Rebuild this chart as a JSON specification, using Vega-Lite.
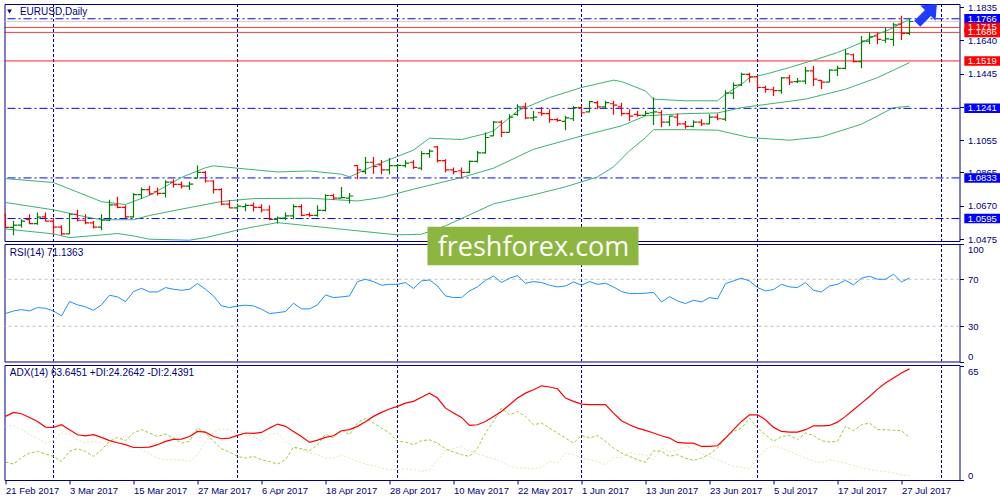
{
"$schema": "https://vega.github.io/schema/vega-lite/v6.json",
"background": "white",
"padding": {"left": 2.5, "top": 1, "right": 0, "bottom": 0},
"spacing": 3,
"bounds": "flush",
"config": {
  "view": {"stroke": "#000080", "strokeWidth": 1},
  "axis": {"labelFont": "Liberation Sans", "labelFontSize": 9.5, "labelColor": "#000080", "tickColor": "#000080", "tickSize": 4, "tickWidth": 1, "labelPadding": 4, "domain": false, "grid": false},
  "text": {"font": "Liberation Sans"}
},
"datasets": {
  "months": [{"i":6},{"i":29},{"i":49},{"i":72},{"i":94},{"i":117}],
  "levels": [
    {"p":1.1750,"type":"bid"},
    {"p":1.1766,"type":"pivot"},
    {"p":1.1686,"type":"target"},
    {"p":1.1715,"type":"target"},
    {"p":1.1519,"type":"target"},
    {"p":1.1241,"type":"pivot"},
    {"p":1.0833,"type":"pivot"},
    {"p":1.0595,"type":"pivot"}
  ],
  "ohlc": [
    {"i":0,"o":1.0615,"h":1.0624,"l":1.0538,"c":1.0543},
    {"i":1,"o":1.0543,"h":1.0581,"l":1.0497,"c":1.0556},
    {"i":2,"o":1.0556,"h":1.0591,"l":1.0542,"c":1.0580},
    {"i":3,"o":1.0590,"h":1.0620,"l":1.0562,"c":1.0565},
    {"i":4,"o":1.0565,"h":1.0630,"l":1.0558,"c":1.0603},
    {"i":5,"o":1.0605,"h":1.0630,"l":1.0577,"c":1.0580},
    {"i":6,"o":1.0580,"h":1.0600,"l":1.0507,"c":1.0545},
    {"i":7,"o":1.0545,"h":1.0556,"l":1.0497,"c":1.0505},
    {"i":8,"o":1.0505,"h":1.0626,"l":1.0503,"c":1.0620},
    {"i":9,"o":1.0620,"h":1.0646,"l":1.0577,"c":1.0585},
    {"i":10,"o":1.0585,"h":1.0620,"l":1.0562,"c":1.0570},
    {"i":11,"o":1.0570,"h":1.0581,"l":1.0536,"c":1.0545},
    {"i":12,"o":1.0545,"h":1.0620,"l":1.0527,"c":1.0585},
    {"i":13,"o":1.0585,"h":1.0705,"l":1.0581,"c":1.0675},
    {"i":14,"o":1.0675,"h":1.0722,"l":1.0655,"c":1.0660},
    {"i":15,"o":1.0660,"h":1.0673,"l":1.0597,"c":1.0605},
    {"i":16,"o":1.0605,"h":1.0744,"l":1.0600,"c":1.0735},
    {"i":17,"o":1.0735,"h":1.0777,"l":1.0709,"c":1.0765},
    {"i":18,"o":1.0765,"h":1.0787,"l":1.0732,"c":1.0740},
    {"i":19,"o":1.0752,"h":1.0777,"l":1.0730,"c":1.0742},
    {"i":20,"o":1.0742,"h":1.0820,"l":1.0718,"c":1.0808},
    {"i":21,"o":1.0808,"h":1.0826,"l":1.0777,"c":1.0795},
    {"i":22,"o":1.0795,"h":1.0812,"l":1.0771,"c":1.0785},
    {"i":23,"o":1.0785,"h":1.0812,"l":1.0762,"c":1.0797},
    {"i":24,"o":1.0832,"h":1.0906,"l":1.0830,"c":1.0866},
    {"i":25,"o":1.0866,"h":1.0874,"l":1.0806,"c":1.0815},
    {"i":26,"o":1.0815,"h":1.0820,"l":1.0742,"c":1.0765},
    {"i":27,"o":1.0765,"h":1.0773,"l":1.0673,"c":1.0680},
    {"i":28,"o":1.0680,"h":1.0703,"l":1.0656,"c":1.0658},
    {"i":29,"o":1.0658,"h":1.0683,"l":1.0644,"c":1.0668},
    {"i":30,"o":1.0665,"h":1.0683,"l":1.0637,"c":1.0672},
    {"i":31,"o":1.0672,"h":1.0689,"l":1.0636,"c":1.0660},
    {"i":32,"o":1.0660,"h":1.0679,"l":1.0630,"c":1.0645},
    {"i":33,"o":1.0645,"h":1.0673,"l":1.0585,"c":1.0590},
    {"i":34,"o":1.0590,"h":1.0607,"l":1.0566,"c":1.0597},
    {"i":35,"o":1.0597,"h":1.0630,"l":1.0585,"c":1.0610},
    {"i":36,"o":1.0610,"h":1.0679,"l":1.0591,"c":1.0665},
    {"i":37,"o":1.0665,"h":1.0679,"l":1.0609,"c":1.0613},
    {"i":38,"o":1.0618,"h":1.0630,"l":1.0605,"c":1.0613},
    {"i":39,"o":1.0613,"h":1.0673,"l":1.0605,"c":1.0643},
    {"i":40,"o":1.0643,"h":1.0738,"l":1.0636,"c":1.0730},
    {"i":41,"o":1.0730,"h":1.0741,"l":1.0703,"c":1.0715},
    {"i":42,"o":1.0715,"h":1.0780,"l":1.0714,"c":1.0718},
    {"i":43,"o":1.0715,"h":1.0745,"l":1.0683,"c":1.0727},
    {"i":44,"o":1.0905,"h":1.0907,"l":1.0825,"c":1.0880},
    {"i":45,"o":1.0870,"h":1.0956,"l":1.0855,"c":1.0925},
    {"i":46,"o":1.0925,"h":1.0956,"l":1.0858,"c":1.0900},
    {"i":47,"o":1.0910,"h":1.0938,"l":1.0855,"c":1.0880},
    {"i":48,"o":1.0880,"h":1.0950,"l":1.0855,"c":1.0905},
    {"i":49,"o":1.0905,"h":1.0913,"l":1.0878,"c":1.0907},
    {"i":50,"o":1.0905,"h":1.0937,"l":1.0894,"c":1.0920},
    {"i":51,"o":1.0925,"h":1.0937,"l":1.0885,"c":1.0895},
    {"i":52,"o":1.0890,"h":1.0991,"l":1.0878,"c":1.0975},
    {"i":53,"o":1.0975,"h":1.1001,"l":1.0952,"c":1.0990},
    {"i":54,"o":1.1015,"h":1.1020,"l":1.0923,"c":1.0935},
    {"i":55,"o":1.0935,"h":1.0943,"l":1.0865,"c":1.0880},
    {"i":56,"o":1.0880,"h":1.0894,"l":1.0855,"c":1.0870},
    {"i":57,"o":1.0875,"h":1.0894,"l":1.0835,"c":1.0865},
    {"i":58,"o":1.0865,"h":1.0935,"l":1.0861,"c":1.0930},
    {"i":59,"o":1.0930,"h":1.0991,"l":1.0923,"c":1.0980},
    {"i":60,"o":1.0980,"h":1.1099,"l":1.0976,"c":1.1070},
    {"i":61,"o":1.1080,"h":1.1167,"l":1.1078,"c":1.1160},
    {"i":62,"o":1.1160,"h":1.1171,"l":1.1073,"c":1.1100},
    {"i":63,"o":1.1100,"h":1.1206,"l":1.1099,"c":1.1190},
    {"i":64,"o":1.1205,"h":1.1265,"l":1.1197,"c":1.1250},
    {"i":65,"o":1.1250,"h":1.1274,"l":1.1177,"c":1.1185},
    {"i":66,"o":1.1185,"h":1.1226,"l":1.1167,"c":1.1190},
    {"i":67,"o":1.1215,"h":1.1249,"l":1.1197,"c":1.1210},
    {"i":68,"o":1.1210,"h":1.1236,"l":1.1157,"c":1.1175},
    {"i":69,"o":1.1175,"h":1.1183,"l":1.1163,"c":1.1170},
    {"i":70,"o":1.1165,"h":1.1197,"l":1.1113,"c":1.1185},
    {"i":71,"o":1.1180,"h":1.1255,"l":1.1167,"c":1.1245},
    {"i":72,"o":1.1245,"h":1.1255,"l":1.1206,"c":1.1215},
    {"i":73,"o":1.1220,"h":1.1285,"l":1.1216,"c":1.1280},
    {"i":74,"o":1.1275,"h":1.1285,"l":1.1236,"c":1.1250},
    {"i":75,"o":1.1250,"h":1.1285,"l":1.1242,"c":1.1275},
    {"i":76,"o":1.1268,"h":1.1285,"l":1.1203,"c":1.1260},
    {"i":77,"o":1.1250,"h":1.1274,"l":1.1197,"c":1.1210},
    {"i":78,"o":1.1210,"h":1.1236,"l":1.1167,"c":1.1195},
    {"i":79,"o":1.1205,"h":1.1226,"l":1.1191,"c":1.1200},
    {"i":80,"o":1.1200,"h":1.1226,"l":1.1197,"c":1.1212},
    {"i":81,"o":1.1215,"h":1.1304,"l":1.1144,"c":1.1220},
    {"i":82,"o":1.1215,"h":1.1230,"l":1.1130,"c":1.1160},
    {"i":83,"o":1.1160,"h":1.1197,"l":1.1138,"c":1.1195},
    {"i":84,"o":1.1190,"h":1.1210,"l":1.1138,"c":1.1150},
    {"i":85,"o":1.1150,"h":1.1167,"l":1.1122,"c":1.1135},
    {"i":86,"o":1.1135,"h":1.1171,"l":1.1130,"c":1.1160},
    {"i":87,"o":1.1160,"h":1.1177,"l":1.1138,"c":1.1150},
    {"i":88,"o":1.1150,"h":1.1206,"l":1.1148,"c":1.1190},
    {"i":89,"o":1.1190,"h":1.1210,"l":1.1171,"c":1.1180},
    {"i":90,"o":1.1178,"h":1.1347,"l":1.1167,"c":1.1330},
    {"i":91,"o":1.1330,"h":1.1392,"l":1.1295,"c":1.1375},
    {"i":92,"o":1.1378,"h":1.1450,"l":1.1372,"c":1.1440},
    {"i":93,"o":1.1440,"h":1.1450,"l":1.1392,"c":1.1425},
    {"i":94,"o":1.1425,"h":1.1428,"l":1.1353,"c":1.1363},
    {"i":95,"o":1.1363,"h":1.1373,"l":1.1333,"c":1.1352},
    {"i":96,"o":1.1350,"h":1.1367,"l":1.1314,"c":1.1345},
    {"i":97,"o":1.1345,"h":1.1425,"l":1.1327,"c":1.1420},
    {"i":98,"o":1.1420,"h":1.1437,"l":1.1378,"c":1.1395},
    {"i":99,"o":1.1397,"h":1.1419,"l":1.1390,"c":1.1400},
    {"i":100,"o":1.1400,"h":1.1484,"l":1.1382,"c":1.1460},
    {"i":101,"o":1.1460,"h":1.1490,"l":1.1372,"c":1.1412},
    {"i":102,"o":1.1405,"h":1.1407,"l":1.1355,"c":1.1395},
    {"i":103,"o":1.1395,"h":1.1470,"l":1.1392,"c":1.1465},
    {"i":104,"o":1.1465,"h":1.1490,"l":1.1431,"c":1.1475},
    {"i":105,"o":1.1475,"h":1.1588,"l":1.1470,"c":1.1560},
    {"i":106,"o":1.1555,"h":1.1562,"l":1.1509,"c":1.1515},
    {"i":107,"o":1.1515,"h":1.1665,"l":1.1476,"c":1.1635},
    {"i":108,"o":1.1635,"h":1.1685,"l":1.1617,"c":1.1660},
    {"i":109,"o":1.1665,"h":1.1685,"l":1.1617,"c":1.1645},
    {"i":110,"o":1.1640,"h":1.1714,"l":1.1626,"c":1.1648},
    {"i":111,"o":1.1645,"h":1.1743,"l":1.1607,"c":1.1730},
    {"i":112,"o":1.1735,"h":1.1783,"l":1.1642,"c":1.1680},
    {"i":113,"o":1.1680,"h":1.1763,"l":1.1671,"c":1.1750}
  ],
  "bb": [
    {"i":0,"b":"upper","v":1.0829},{"i":6,"b":"upper","v":1.0806},{"i":12,"b":"upper","v":1.0694},{"i":15,"b":"upper","v":1.0677},{"i":18,"b":"upper","v":1.0731},{"i":22,"b":"upper","v":1.0836},{"i":25,"b":"upper","v":1.0893},{"i":26,"b":"upper","v":1.0904},{"i":29,"b":"upper","v":1.0890},{"i":34,"b":"upper","v":1.0868},{"i":38,"b":"upper","v":1.0874},{"i":42,"b":"upper","v":1.0855},{"i":43,"b":"upper","v":1.0839},{"i":46,"b":"upper","v":1.0904},{"i":51,"b":"upper","v":1.0996},{"i":53,"b":"upper","v":1.1066},{"i":57,"b":"upper","v":1.1058},{"i":60,"b":"upper","v":1.1093},{"i":61,"b":"upper","v":1.1109},{"i":64,"b":"upper","v":1.1226},{"i":68,"b":"upper","v":1.1304},{"i":72,"b":"upper","v":1.1363},{"i":76,"b":"upper","v":1.1406},{"i":77,"b":"upper","v":1.1398},{"i":80,"b":"upper","v":1.1343},{"i":81,"b":"upper","v":1.1295},{"i":85,"b":"upper","v":1.1285},{"i":89,"b":"upper","v":1.1285},{"i":90,"b":"upper","v":1.1324},{"i":92,"b":"upper","v":1.1382},{"i":93,"b":"upper","v":1.1421},{"i":95,"b":"upper","v":1.1441},{"i":98,"b":"upper","v":1.1480},{"i":101,"b":"upper","v":1.1523},{"i":104,"b":"upper","v":1.1568},{"i":107,"b":"upper","v":1.1626},{"i":109,"b":"upper","v":1.1675},{"i":111,"b":"upper","v":1.1714},{"i":113,"b":"upper","v":1.1763},
    {"i":0,"b":"middle","v":1.0689},{"i":6,"b":"middle","v":1.0646},{"i":10,"b":"middle","v":1.0605},{"i":12,"b":"middle","v":1.0588},{"i":16,"b":"middle","v":1.0588},{"i":18,"b":"middle","v":1.0613},{"i":22,"b":"middle","v":1.0650},{"i":27,"b":"middle","v":1.0695},{"i":31,"b":"middle","v":1.0712},{"i":38,"b":"middle","v":1.0714},{"i":44,"b":"middle","v":1.0698},{"i":47,"b":"middle","v":1.0718},{"i":51,"b":"middle","v":1.0767},{"i":57,"b":"middle","v":1.0835},{"i":61,"b":"middle","v":1.0890},{"i":66,"b":"middle","v":1.1001},{"i":72,"b":"middle","v":1.1079},{"i":77,"b":"middle","v":1.1138},{"i":80,"b":"middle","v":1.1197},{"i":85,"b":"middle","v":1.1210},{"i":89,"b":"middle","v":1.1214},{"i":92,"b":"middle","v":1.1245},{"i":100,"b":"middle","v":1.1295},{"i":105,"b":"middle","v":1.1353},{"i":109,"b":"middle","v":1.1421},{"i":113,"b":"middle","v":1.1509},
    {"i":0,"b":"lower","v":1.0534},{"i":6,"b":"lower","v":1.0505},{"i":8,"b":"lower","v":1.0483},{"i":12,"b":"lower","v":1.0499},{"i":14,"b":"lower","v":1.0507},{"i":16,"b":"lower","v":1.0493},{"i":18,"b":"lower","v":1.0474},{"i":23,"b":"lower","v":1.0468},{"i":25,"b":"lower","v":1.0483},{"i":29,"b":"lower","v":1.0527},{"i":31,"b":"lower","v":1.0546},{"i":34,"b":"lower","v":1.0571},{"i":38,"b":"lower","v":1.0552},{"i":44,"b":"lower","v":1.0523},{"i":49,"b":"lower","v":1.0499},{"i":52,"b":"lower","v":1.0503},{"i":55,"b":"lower","v":1.0552},{"i":61,"b":"lower","v":1.0681},{"i":66,"b":"lower","v":1.0734},{"i":70,"b":"lower","v":1.0781},{"i":74,"b":"lower","v":1.0839},{"i":76,"b":"lower","v":1.0898},{"i":78,"b":"lower","v":1.0992},{"i":80,"b":"lower","v":1.1069},{"i":81,"b":"lower","v":1.1116},{"i":85,"b":"lower","v":1.1116},{"i":89,"b":"lower","v":1.1113},{"i":93,"b":"lower","v":1.1070},{"i":98,"b":"lower","v":1.1054},{"i":102,"b":"lower","v":1.1074},{"i":107,"b":"lower","v":1.1148},{"i":111,"b":"lower","v":1.1245},{"i":113,"b":"lower","v":1.1253}
  ],
  "rsi": [
    {"i":0,"v":40.8},{"i":1,"v":43.0},{"i":2,"v":44.2},{"i":3,"v":43.0},{"i":4,"v":45.9},{"i":5,"v":45.3},{"i":6,"v":43.0},{"i":7,"v":38.8},{"i":8,"v":51.0},{"i":9,"v":48.2},{"i":10,"v":46.5},{"i":11,"v":43.6},{"i":12,"v":48.2},{"i":13,"v":56.4},{"i":14,"v":55.0},{"i":15,"v":51.0},{"i":16,"v":59.5},{"i":17,"v":62.3},{"i":18,"v":59.2},{"i":19,"v":59.2},{"i":20,"v":62.9},{"i":21,"v":61.5},{"i":22,"v":60.6},{"i":23,"v":61.5},{"i":24,"v":66.3},{"i":25,"v":61.5},{"i":26,"v":55.8},{"i":27,"v":47.3},{"i":28,"v":45.9},{"i":29,"v":47.3},{"i":30,"v":47.9},{"i":31,"v":47.3},{"i":32,"v":44.5},{"i":33,"v":40.8},{"i":34,"v":41.6},{"i":35,"v":42.5},{"i":36,"v":49.6},{"i":37,"v":44.8},{"i":38,"v":44.8},{"i":39,"v":48.2},{"i":40,"v":56.7},{"i":41,"v":54.4},{"i":42,"v":55.0},{"i":43,"v":55.8},{"i":44,"v":68.0},{"i":45,"v":70.0},{"i":46,"v":68.0},{"i":47,"v":64.9},{"i":48,"v":65.7},{"i":49,"v":65.7},{"i":50,"v":67.2},{"i":51,"v":62.1},{"i":52,"v":68.6},{"i":53,"v":69.4},{"i":54,"v":64.3},{"i":55,"v":55.8},{"i":56,"v":54.4},{"i":57,"v":54.4},{"i":58,"v":60.1},{"i":59,"v":63.5},{"i":60,"v":69.1},{"i":61,"v":72.8},{"i":62,"v":67.2},{"i":63,"v":70.9},{"i":64,"v":73.1},{"i":65,"v":66.6},{"i":66,"v":68.0},{"i":67,"v":67.2},{"i":68,"v":64.9},{"i":69,"v":63.5},{"i":70,"v":64.3},{"i":71,"v":67.7},{"i":72,"v":64.9},{"i":73,"v":68.0},{"i":74,"v":65.7},{"i":75,"v":66.6},{"i":76,"v":63.5},{"i":77,"v":59.5},{"i":78,"v":57.8},{"i":79,"v":57.8},{"i":80,"v":58.1},{"i":81,"v":58.9},{"i":82,"v":50.7},{"i":83,"v":55.2},{"i":84,"v":51.6},{"i":85,"v":49.3},{"i":86,"v":52.1},{"i":87,"v":50.7},{"i":88,"v":54.4},{"i":89,"v":53.3},{"i":90,"v":66.3},{"i":91,"v":68.6},{"i":92,"v":70.9},{"i":93,"v":68.6},{"i":94,"v":62.9},{"i":95,"v":60.1},{"i":96,"v":61.2},{"i":97,"v":65.7},{"i":98,"v":63.5},{"i":99,"v":62.9},{"i":100,"v":67.2},{"i":101,"v":60.6},{"i":102,"v":59.2},{"i":103,"v":64.3},{"i":104,"v":65.7},{"i":105,"v":69.1},{"i":106,"v":65.2},{"i":107,"v":70.9},{"i":108,"v":72.6},{"i":109,"v":70.0},{"i":110,"v":70.0},{"i":111,"v":74.3},{"i":112,"v":67.7},{"i":113,"v":71.1}
  ],
  "adx": [
    {"i":0,"v":36.4},{"i":1,"v":38.7},{"i":2,"v":37.9},{"i":3,"v":35.8},{"i":4,"v":33.5},{"i":5,"v":30.3},{"i":6,"v":30.1},{"i":7,"v":31.6},{"i":8,"v":28.8},{"i":9,"v":25.9},{"i":10,"v":25.3},{"i":11,"v":25.9},{"i":12,"v":24.4},{"i":13,"v":22.5},{"i":14,"v":21.3},{"i":15,"v":20.2},{"i":16,"v":18.6},{"i":17,"v":18.6},{"i":18,"v":18.8},{"i":19,"v":20.2},{"i":20,"v":22.1},{"i":21,"v":23.2},{"i":22,"v":23.4},{"i":23,"v":24.9},{"i":24,"v":27.8},{"i":25,"v":27.4},{"i":26,"v":24.9},{"i":27,"v":23.6},{"i":28,"v":24.0},{"i":29,"v":25.5},{"i":30,"v":26.9},{"i":31,"v":26.7},{"i":32,"v":27.2},{"i":33,"v":29.7},{"i":34,"v":32.0},{"i":35,"v":30.7},{"i":36,"v":27.8},{"i":37,"v":24.9},{"i":38,"v":21.5},{"i":39,"v":22.8},{"i":40,"v":24.4},{"i":41,"v":25.3},{"i":42,"v":28.2},{"i":43,"v":28.8},{"i":44,"v":30.7},{"i":45,"v":33.3},{"i":46,"v":36.4},{"i":47,"v":38.7},{"i":48,"v":40.6},{"i":49,"v":42.1},{"i":50,"v":44.0},{"i":51,"v":45.0},{"i":52,"v":47.3},{"i":53,"v":49.7},{"i":54,"v":46.9},{"i":55,"v":41.1},{"i":56,"v":38.3},{"i":57,"v":35.8},{"i":58,"v":31.2},{"i":59,"v":31.6},{"i":60,"v":33.5},{"i":61,"v":36.4},{"i":62,"v":39.2},{"i":63,"v":43.1},{"i":64,"v":46.9},{"i":65,"v":49.7},{"i":66,"v":51.6},{"i":67,"v":53.9},{"i":68,"v":53.2},{"i":69,"v":52.2},{"i":70,"v":46.9},{"i":71,"v":45.0},{"i":72,"v":43.4},{"i":73,"v":43.1},{"i":74,"v":43.1},{"i":75,"v":43.1},{"i":76,"v":38.3},{"i":77,"v":33.9},{"i":78,"v":31.6},{"i":79,"v":29.7},{"i":80,"v":28.4},{"i":81,"v":26.9},{"i":82,"v":25.3},{"i":83,"v":24.0},{"i":84,"v":21.5},{"i":85,"v":21.1},{"i":86,"v":21.1},{"i":87,"v":19.2},{"i":88,"v":19.2},{"i":89,"v":19.6},{"i":90,"v":24.0},{"i":91,"v":28.8},{"i":92,"v":33.5},{"i":93,"v":37.3},{"i":94,"v":37.3},{"i":95,"v":34.5},{"i":96,"v":30.1},{"i":97,"v":27.8},{"i":98,"v":27.4},{"i":99,"v":27.4},{"i":100,"v":28.8},{"i":101,"v":31.0},{"i":102,"v":31.0},{"i":103,"v":31.2},{"i":104,"v":33.1},{"i":105,"v":36.4},{"i":106,"v":40.2},{"i":107,"v":44.0},{"i":108,"v":47.8},{"i":109,"v":52.0},{"i":110,"v":55.5},{"i":111,"v":58.3},{"i":112,"v":61.2},{"i":113,"v":63.6}
  ],
  "pdi": [
    {"i":0,"v":10.3},{"i":1,"v":9.1},{"i":2,"v":12.9},{"i":3,"v":15.4},{"i":4,"v":16.4},{"i":5,"v":14.8},{"i":6,"v":13.5},{"i":7,"v":10.6},{"i":8,"v":16.4},{"i":9,"v":17.9},{"i":10,"v":16.4},{"i":11,"v":13.5},{"i":12,"v":17.3},{"i":13,"v":22.1},{"i":14,"v":24.4},{"i":15,"v":22.5},{"i":16,"v":26.9},{"i":17,"v":28.8},{"i":18,"v":26.9},{"i":19,"v":24.9},{"i":20,"v":26.3},{"i":21,"v":24.0},{"i":22,"v":21.1},{"i":23,"v":22.1},{"i":24,"v":29.7},{"i":25,"v":26.9},{"i":26,"v":22.1},{"i":27,"v":17.9},{"i":28,"v":16.0},{"i":29,"v":13.5},{"i":30,"v":12.5},{"i":31,"v":13.5},{"i":32,"v":11.6},{"i":33,"v":10.6},{"i":34,"v":9.1},{"i":35,"v":11.6},{"i":36,"v":18.8},{"i":37,"v":17.9},{"i":38,"v":16.7},{"i":39,"v":20.2},{"i":40,"v":26.3},{"i":41,"v":24.0},{"i":42,"v":28.8},{"i":43,"v":25.9},{"i":44,"v":32.6},{"i":45,"v":35.4},{"i":46,"v":32.6},{"i":47,"v":29.7},{"i":48,"v":26.9},{"i":49,"v":22.1},{"i":50,"v":21.7},{"i":51,"v":20.2},{"i":52,"v":22.5},{"i":53,"v":23.0},{"i":54,"v":21.1},{"i":55,"v":17.9},{"i":56,"v":16.0},{"i":57,"v":14.5},{"i":58,"v":13.5},{"i":59,"v":18.3},{"i":60,"v":26.9},{"i":61,"v":33.5},{"i":62,"v":41.1},{"i":63,"v":37.3},{"i":64,"v":39.2},{"i":65,"v":36.4},{"i":66,"v":31.6},{"i":67,"v":32.6},{"i":68,"v":29.7},{"i":69,"v":26.9},{"i":70,"v":24.0},{"i":71,"v":21.1},{"i":72,"v":25.5},{"i":73,"v":24.0},{"i":74,"v":25.5},{"i":75,"v":22.1},{"i":76,"v":18.3},{"i":77,"v":15.4},{"i":78,"v":13.5},{"i":79,"v":11.6},{"i":80,"v":10.1},{"i":81,"v":16.7},{"i":82,"v":16.4},{"i":83,"v":13.5},{"i":84,"v":14.5},{"i":85,"v":12.5},{"i":86,"v":11.2},{"i":87,"v":12.5},{"i":88,"v":14.8},{"i":89,"v":18.3},{"i":90,"v":24.0},{"i":91,"v":27.8},{"i":92,"v":29.7},{"i":93,"v":35.4},{"i":94,"v":29.7},{"i":95,"v":25.9},{"i":96,"v":22.1},{"i":97,"v":24.9},{"i":98,"v":25.5},{"i":99,"v":23.0},{"i":100,"v":26.9},{"i":101,"v":25.5},{"i":102,"v":22.5},{"i":103,"v":21.7},{"i":104,"v":22.1},{"i":105,"v":30.7},{"i":106,"v":28.2},{"i":107,"v":31.6},{"i":108,"v":32.6},{"i":109,"v":28.8},{"i":110,"v":28.8},{"i":111,"v":28.4},{"i":112,"v":28.2},{"i":113,"v":24.3}
  ],
  "mdi": [
    {"i":0,"v":30.7},{"i":1,"v":31.2},{"i":2,"v":28.8},{"i":3,"v":25.9},{"i":4,"v":24.0},{"i":5,"v":21.1},{"i":6,"v":22.5},{"i":7,"v":26.9},{"i":8,"v":25.9},{"i":9,"v":23.0},{"i":10,"v":21.1},{"i":11,"v":22.1},{"i":12,"v":21.1},{"i":13,"v":19.2},{"i":14,"v":22.1},{"i":15,"v":25.9},{"i":16,"v":20.2},{"i":17,"v":17.3},{"i":18,"v":15.0},{"i":19,"v":12.5},{"i":20,"v":11.6},{"i":21,"v":11.6},{"i":22,"v":11.6},{"i":23,"v":10.6},{"i":24,"v":14.5},{"i":25,"v":22.1},{"i":26,"v":27.4},{"i":27,"v":29.3},{"i":28,"v":28.8},{"i":29,"v":25.9},{"i":30,"v":25.9},{"i":31,"v":24.9},{"i":32,"v":22.1},{"i":33,"v":25.9},{"i":34,"v":26.9},{"i":35,"v":22.1},{"i":36,"v":18.3},{"i":37,"v":17.3},{"i":38,"v":15.4},{"i":39,"v":14.5},{"i":40,"v":12.5},{"i":41,"v":12.5},{"i":42,"v":14.5},{"i":43,"v":12.5},{"i":44,"v":10.6},{"i":45,"v":9.1},{"i":46,"v":8.3},{"i":47,"v":6.8},{"i":48,"v":5.9},{"i":49,"v":5.9},{"i":50,"v":6.4},{"i":51,"v":5.9},{"i":52,"v":4.9},{"i":53,"v":5.9},{"i":54,"v":11.6},{"i":55,"v":16.7},{"i":56,"v":17.9},{"i":57,"v":19.2},{"i":58,"v":16.4},{"i":59,"v":14.8},{"i":60,"v":13.5},{"i":61,"v":12.2},{"i":62,"v":10.6},{"i":63,"v":7.8},{"i":64,"v":6.8},{"i":65,"v":6.8},{"i":66,"v":6.4},{"i":67,"v":7.2},{"i":68,"v":10.6},{"i":69,"v":9.7},{"i":70,"v":15.4},{"i":71,"v":14.5},{"i":72,"v":12.5},{"i":73,"v":11.6},{"i":74,"v":10.6},{"i":75,"v":8.7},{"i":76,"v":12.9},{"i":77,"v":12.9},{"i":78,"v":16.0},{"i":79,"v":14.5},{"i":80,"v":14.5},{"i":81,"v":11.6},{"i":82,"v":18.3},{"i":83,"v":16.0},{"i":84,"v":17.3},{"i":85,"v":19.2},{"i":86,"v":18.3},{"i":87,"v":15.0},{"i":88,"v":13.5},{"i":89,"v":11.6},{"i":90,"v":9.7},{"i":91,"v":7.8},{"i":92,"v":7.2},{"i":93,"v":6.3},{"i":94,"v":12.5},{"i":95,"v":17.3},{"i":96,"v":19.8},{"i":97,"v":18.3},{"i":98,"v":16.4},{"i":99,"v":14.5},{"i":100,"v":12.5},{"i":101,"v":11.0},{"i":102,"v":9.7},{"i":103,"v":11.6},{"i":104,"v":10.6},{"i":105,"v":9.7},{"i":106,"v":8.3},{"i":107,"v":6.8},{"i":108,"v":5.9},{"i":109,"v":5.3},{"i":110,"v":4.9},{"i":111,"v":4.0},{"i":112,"v":3.0},{"i":113,"v":2.4}
  ]
},
"vconcat": [
  {
    "width": 955, "height": 237,
    "layer": [
      {"data": {"name": "months"},
       "mark": {"type": "rule", "color": "#000080", "strokeDash": [3, 2], "strokeWidth": 1},
       "encoding": {"x": {"field": "i", "type": "quantitative", "scale": {"domain": [-0.125, 119.25], "nice": false, "zero": false}, "axis": null}}},
      {"data": {"name": "levels"},
       "mark": {"type": "rule", "strokeWidth": 1},
       "encoding": {
         "y": {"field": "p", "type": "quantitative", "scale": {"domain": [1.04633, 1.18526], "nice": false, "zero": false}, "title": null,
               "axis": {"orient": "right", "values": [1.0475, 1.067, 1.0865, 1.1055, 1.125, 1.1445, 1.164, 1.1835], "format": ".4f", "labelOverlap": false}},
         "color": {"field": "type", "type": "nominal", "scale": {"domain": ["target", "pivot", "bid"], "range": ["#ff0000", "#0000ff", "#c0c0c0"]}, "legend": null},
         "strokeDash": {"field": "type", "type": "nominal", "scale": {"domain": ["target", "pivot", "bid"], "range": [[1, 0], [8, 3, 2, 3], [1, 0]]}, "legend": null}}},
      {"data": {"name": "bb"},
       "mark": {"type": "line", "color": "#3CB371", "strokeWidth": 1},
       "encoding": {
         "x": {"field": "i", "type": "quantitative", "scale": {"domain": [-0.125, 119.25], "nice": false, "zero": false}, "axis": null},
         "y": {"field": "v", "type": "quantitative", "scale": {"domain": [1.04633, 1.18526], "nice": false, "zero": false}, "title": null,
               "axis": {"orient": "right", "values": [1.0475, 1.067, 1.0865, 1.1055, 1.125, 1.1445, 1.164, 1.1835], "format": ".4f", "labelOverlap": false}},
         "detail": {"field": "b", "type": "nominal"}}},
      {"data": {"name": "ohlc"},
       "mark": {"type": "rule", "strokeWidth": 1.2, "clip": true},
       "encoding": {
         "x": {"field": "i", "type": "quantitative", "scale": {"domain": [-0.125, 119.25], "nice": false, "zero": false}, "axis": null},
         "y": {"field": "l", "type": "quantitative", "scale": {"domain": [1.04633, 1.18526], "nice": false, "zero": false}, "title": null,
               "axis": {"orient": "right", "values": [1.0475, 1.067, 1.0865, 1.1055, 1.125, 1.1445, 1.164, 1.1835], "format": ".4f", "labelOverlap": false}},
         "y2": {"field": "h"},
         "color": {"condition": {"test": "datum.c >= datum.o", "value": "#008000"}, "value": "#ff0000"}}},
      {"data": {"name": "ohlc"},
       "mark": {"type": "tick", "orient": "horizontal", "size": 3.5, "thickness": 1.2, "xOffset": -2, "opacity": 1, "clip": true},
       "encoding": {
         "x": {"field": "i", "type": "quantitative", "scale": {"domain": [-0.125, 119.25], "nice": false, "zero": false}, "axis": null},
         "y": {"field": "o", "type": "quantitative", "scale": {"domain": [1.04633, 1.18526], "nice": false, "zero": false}, "title": null,
               "axis": {"orient": "right", "values": [1.0475, 1.067, 1.0865, 1.1055, 1.125, 1.1445, 1.164, 1.1835], "format": ".4f", "labelOverlap": false}},
         "color": {"condition": {"test": "datum.c >= datum.o", "value": "#008000"}, "value": "#ff0000"}}},
      {"data": {"name": "ohlc"},
       "mark": {"type": "tick", "orient": "horizontal", "size": 3.5, "thickness": 1.2, "xOffset": 2, "opacity": 1, "clip": true},
       "encoding": {
         "x": {"field": "i", "type": "quantitative", "scale": {"domain": [-0.125, 119.25], "nice": false, "zero": false}, "axis": null},
         "y": {"field": "c", "type": "quantitative", "scale": {"domain": [1.04633, 1.18526], "nice": false, "zero": false}, "title": null,
               "axis": {"orient": "right", "values": [1.0475, 1.067, 1.0865, 1.1055, 1.125, 1.1445, 1.164, 1.1835], "format": ".4f", "labelOverlap": false}},
         "color": {"condition": {"test": "datum.c >= datum.o", "value": "#008000"}, "value": "#ff0000"}}},
      {"data": {"name": "levels"},
       "transform": [{"filter": "datum.type !== 'bid'"}],
       "mark": {"type": "tick", "orient": "horizontal", "size": 36, "thickness": 9.5, "opacity": 1},
       "encoding": {
         "x": {"datum": 122.1, "type": "quantitative", "scale": {"domain": [-0.125, 119.25], "nice": false, "zero": false}, "axis": null},
         "y": {"field": "p", "type": "quantitative", "scale": {"domain": [1.04633, 1.18526], "nice": false, "zero": false}, "title": null,
               "axis": {"orient": "right", "values": [1.0475, 1.067, 1.0865, 1.1055, 1.125, 1.1445, 1.164, 1.1835], "format": ".4f", "labelOverlap": false}},
         "color": {"field": "type", "type": "nominal", "scale": {"domain": ["target", "pivot", "bid"], "range": ["#ff0000", "#0000ff", "#c0c0c0"]}, "legend": null}}},
      {"data": {"name": "levels"},
       "transform": [{"filter": "datum.type !== 'bid'"}],
       "mark": {"type": "text", "color": "white", "fontSize": 9.5, "align": "center", "baseline": "middle"},
       "encoding": {
         "x": {"datum": 122.1, "type": "quantitative", "scale": {"domain": [-0.125, 119.25], "nice": false, "zero": false}, "axis": null},
         "y": {"field": "p", "type": "quantitative", "scale": {"domain": [1.04633, 1.18526], "nice": false, "zero": false}, "title": null,
               "axis": {"orient": "right", "values": [1.0475, 1.067, 1.0865, 1.1055, 1.125, 1.1445, 1.164, 1.1835], "format": ".4f", "labelOverlap": false}},
         "text": {"field": "p", "type": "quantitative", "format": ".4f"}}},
      {"data": {"values": [{}]},
       "mark": {"type": "point", "shape": "triangle-down", "size": 22, "filled": true, "color": "#000080", "opacity": 1},
       "encoding": {
         "x": {"datum": 0.5, "type": "quantitative", "scale": {"domain": [-0.125, 119.25], "nice": false, "zero": false}, "axis": null},
         "y": {"datum": 1.18086, "type": "quantitative", "scale": {"domain": [1.04633, 1.18526], "nice": false, "zero": false}, "title": null,
               "axis": {"orient": "right", "values": [1.0475, 1.067, 1.0865, 1.1055, 1.125, 1.1445, 1.164, 1.1835], "format": ".4f", "labelOverlap": false}}}},
      {"data": {"values": [{}]},
       "mark": {"type": "text", "text": "EURUSD,Daily", "color": "#000080", "fontSize": 10, "align": "left", "baseline": "middle"},
       "encoding": {
         "x": {"datum": 1.8, "type": "quantitative", "scale": {"domain": [-0.125, 119.25], "nice": false, "zero": false}, "axis": null},
         "y": {"datum": 1.18086, "type": "quantitative", "scale": {"domain": [1.04633, 1.18526], "nice": false, "zero": false}, "title": null,
               "axis": {"orient": "right", "values": [1.0475, 1.067, 1.0865, 1.1055, 1.125, 1.1445, 1.164, 1.1835], "format": ".4f", "labelOverlap": false}}}},
      {"data": {"values": [{}]},
       "mark": {"type": "point", "shape": "M0,-1L0.72,-0.15L0.28,-0.15L0.28,0.85L-0.28,0.85L-0.28,-0.15L-0.72,-0.15Z", "size": 900, "angle": 45, "filled": true, "color": "#1f3cff", "opacity": 1},
       "encoding": {
         "x": {"datum": 115.1, "type": "quantitative", "scale": {"domain": [-0.125, 119.25], "nice": false, "zero": false}, "axis": null},
         "y": {"datum": 1.1790, "type": "quantitative", "scale": {"domain": [1.04633, 1.18526], "nice": false, "zero": false}, "title": null,
               "axis": {"orient": "right", "values": [1.0475, 1.067, 1.0865, 1.1055, 1.125, 1.1445, 1.164, 1.1835], "format": ".4f", "labelOverlap": false}}}}
    ]
  },
  {
    "width": 955, "height": 117.5,
    "layer": [
      {"data": {"name": "months"},
       "mark": {"type": "rule", "color": "#000080", "strokeDash": [3, 2], "strokeWidth": 1},
       "encoding": {"x": {"field": "i", "type": "quantitative", "scale": {"domain": [-0.125, 119.25], "nice": false, "zero": false}, "axis": null}}},
      {"data": {"values": [{"v": 70}, {"v": 30}]},
       "mark": {"type": "rule", "color": "#c0c0c0", "strokeDash": [3, 3], "strokeWidth": 1},
       "encoding": {"y": {"field": "v", "type": "quantitative", "scale": {"domain": [0, 100], "nice": false}, "title": null,
         "axis": {"orient": "right", "values": [0, 30, 70, 100], "labelFlush": true, "labelOverlap": false}}}},
      {"data": {"name": "rsi"},
       "mark": {"type": "line", "color": "#1E90FF", "strokeWidth": 1},
       "encoding": {
         "x": {"field": "i", "type": "quantitative", "scale": {"domain": [-0.125, 119.25], "nice": false, "zero": false}, "axis": null},
         "y": {"field": "v", "type": "quantitative", "scale": {"domain": [0, 100], "nice": false}, "title": null,
           "axis": {"orient": "right", "values": [0, 30, 70, 100], "labelFlush": true, "labelOverlap": false}}}},
      {"data": {"values": [{}]},
       "mark": {"type": "text", "text": "RSI(14) 71.1363", "color": "#000080", "fontSize": 10, "align": "left", "baseline": "middle"},
       "encoding": {
         "x": {"datum": 0.54, "type": "quantitative", "scale": {"domain": [-0.125, 119.25], "nice": false, "zero": false}, "axis": null},
         "y": {"datum": 92.6, "type": "quantitative", "scale": {"domain": [0, 100], "nice": false}, "title": null,
           "axis": {"orient": "right", "values": [0, 30, 70, 100], "labelFlush": true, "labelOverlap": false}}}},
      {"data": {"values": [{}]},
       "mark": {"type": "rect", "color": "#8DB641", "opacity": 1},
       "encoding": {
         "x": {"datum": 52.75, "type": "quantitative", "scale": {"domain": [-0.125, 119.25], "nice": false, "zero": false}, "axis": null},
         "x2": {"datum": 79.125},
         "y": {"datum": 114.7, "type": "quantitative", "scale": {"domain": [0, 100], "nice": false}, "title": null,
           "axis": {"orient": "right", "values": [0, 30, 70, 100], "labelFlush": true, "labelOverlap": false}},
         "y2": {"datum": 81.9}}},
      {"data": {"values": [{}]},
       "mark": {"type": "text", "text": "freshforex.com", "color": "white", "font": "Open Sans", "fontSize": 27, "align": "center", "baseline": "alphabetic"},
       "encoding": {
         "x": {"datum": 66.0, "type": "quantitative", "scale": {"domain": [-0.125, 119.25], "nice": false, "zero": false}, "axis": null},
         "y": {"datum": 89.8, "type": "quantitative", "scale": {"domain": [0, 100], "nice": false}, "title": null,
           "axis": {"orient": "right", "values": [0, 30, 70, 100], "labelFlush": true, "labelOverlap": false}}}}
    ]
  },
  {
    "width": 955, "height": 115,
    "layer": [
      {"data": {"name": "months"},
       "mark": {"type": "rule", "color": "#000080", "strokeDash": [3, 2], "strokeWidth": 1},
       "encoding": {"x": {"field": "i", "type": "quantitative", "scale": {"domain": [-0.125, 119.25], "nice": false, "zero": false}, "title": null,
         "axis": {"orient": "bottom", "values": [0, 8, 16, 24, 32, 40, 48, 56, 64, 72, 80, 88, 96, 104, 112], "labelAlign": "left", "labelPadding": 1, "labelOverlap": false, "labelFlush": false,
           "labelExpr": "['21 Feb 2017','3 Mar 2017','15 Mar 2017','27 Mar 2017','6 Apr 2017','18 Apr 2017','28 Apr 2017','10 May 2017','22 May 2017','1 Jun 2017','13 Jun 2017','23 Jun 2017','5 Jul 2017','17 Jul 2017','27 Jul 2017'][datum.value / 8]"}}}},
      {"data": {"name": "mdi"},
       "mark": {"type": "line", "color": "#F5DEB3", "strokeWidth": 1, "strokeDash": [2, 2]},
       "encoding": {
         "x": {"field": "i", "type": "quantitative", "scale": {"domain": [-0.125, 119.25], "nice": false, "zero": false}, "title": null,
           "axis": {"orient": "bottom", "values": [0, 8, 16, 24, 32, 40, 48, 56, 64, 72, 80, 88, 96, 104, 112], "labelAlign": "left", "labelPadding": 1, "labelOverlap": false, "labelFlush": false,
             "labelExpr": "['21 Feb 2017','3 Mar 2017','15 Mar 2017','27 Mar 2017','6 Apr 2017','18 Apr 2017','28 Apr 2017','10 May 2017','22 May 2017','1 Jun 2017','13 Jun 2017','23 Jun 2017','5 Jul 2017','17 Jul 2017','27 Jul 2017'][datum.value / 8]"}},
         "y": {"field": "v", "type": "quantitative", "scale": {"domain": [0, 65.8], "nice": false}, "title": null,
           "axis": {"orient": "right", "values": [0, 65], "labelFlush": 3, "labelOverlap": false}}}},
      {"data": {"name": "pdi"},
       "mark": {"type": "line", "color": "#9ACD32", "strokeWidth": 1, "strokeDash": [3, 2]},
       "encoding": {
         "x": {"field": "i", "type": "quantitative", "scale": {"domain": [-0.125, 119.25], "nice": false, "zero": false}, "title": null,
           "axis": {"orient": "bottom", "values": [0, 8, 16, 24, 32, 40, 48, 56, 64, 72, 80, 88, 96, 104, 112], "labelAlign": "left", "labelPadding": 1, "labelOverlap": false, "labelFlush": false,
             "labelExpr": "['21 Feb 2017','3 Mar 2017','15 Mar 2017','27 Mar 2017','6 Apr 2017','18 Apr 2017','28 Apr 2017','10 May 2017','22 May 2017','1 Jun 2017','13 Jun 2017','23 Jun 2017','5 Jul 2017','17 Jul 2017','27 Jul 2017'][datum.value / 8]"}},
         "y": {"field": "v", "type": "quantitative", "scale": {"domain": [0, 65.8], "nice": false}, "title": null,
           "axis": {"orient": "right", "values": [0, 65], "labelFlush": 3, "labelOverlap": false}}}},
      {"data": {"name": "adx"},
       "mark": {"type": "line", "color": "#ff0000", "strokeWidth": 1.2},
       "encoding": {
         "x": {"field": "i", "type": "quantitative", "scale": {"domain": [-0.125, 119.25], "nice": false, "zero": false}, "title": null,
           "axis": {"orient": "bottom", "values": [0, 8, 16, 24, 32, 40, 48, 56, 64, 72, 80, 88, 96, 104, 112], "labelAlign": "left", "labelPadding": 1, "labelOverlap": false, "labelFlush": false,
             "labelExpr": "['21 Feb 2017','3 Mar 2017','15 Mar 2017','27 Mar 2017','6 Apr 2017','18 Apr 2017','28 Apr 2017','10 May 2017','22 May 2017','1 Jun 2017','13 Jun 2017','23 Jun 2017','5 Jul 2017','17 Jul 2017','27 Jul 2017'][datum.value / 8]"}},
         "y": {"field": "v", "type": "quantitative", "scale": {"domain": [0, 65.8], "nice": false}, "title": null,
           "axis": {"orient": "right", "values": [0, 65], "labelFlush": 3, "labelOverlap": false}}}},
      {"data": {"values": [{}]},
       "mark": {"type": "text", "text": "ADX(14) 63.6451 +DI:24.2642 -DI:2.4391", "color": "#000080", "fontSize": 10, "align": "left", "baseline": "middle"},
       "encoding": {
         "x": {"datum": 0.54, "type": "quantitative", "scale": {"domain": [-0.125, 119.25], "nice": false, "zero": false}, "title": null,
           "axis": {"orient": "bottom", "values": [0, 8, 16, 24, 32, 40, 48, 56, 64, 72, 80, 88, 96, 104, 112], "labelAlign": "left", "labelPadding": 1, "labelOverlap": false, "labelFlush": false,
             "labelExpr": "['21 Feb 2017','3 Mar 2017','15 Mar 2017','27 Mar 2017','6 Apr 2017','18 Apr 2017','28 Apr 2017','10 May 2017','22 May 2017','1 Jun 2017','13 Jun 2017','23 Jun 2017','5 Jul 2017','17 Jul 2017','27 Jul 2017'][datum.value / 8]"}},
         "y": {"datum": 61.1, "type": "quantitative", "scale": {"domain": [0, 65.8], "nice": false}, "title": null,
           "axis": {"orient": "right", "values": [0, 65], "labelFlush": 3, "labelOverlap": false}}}}
    ]
  }
]
}
